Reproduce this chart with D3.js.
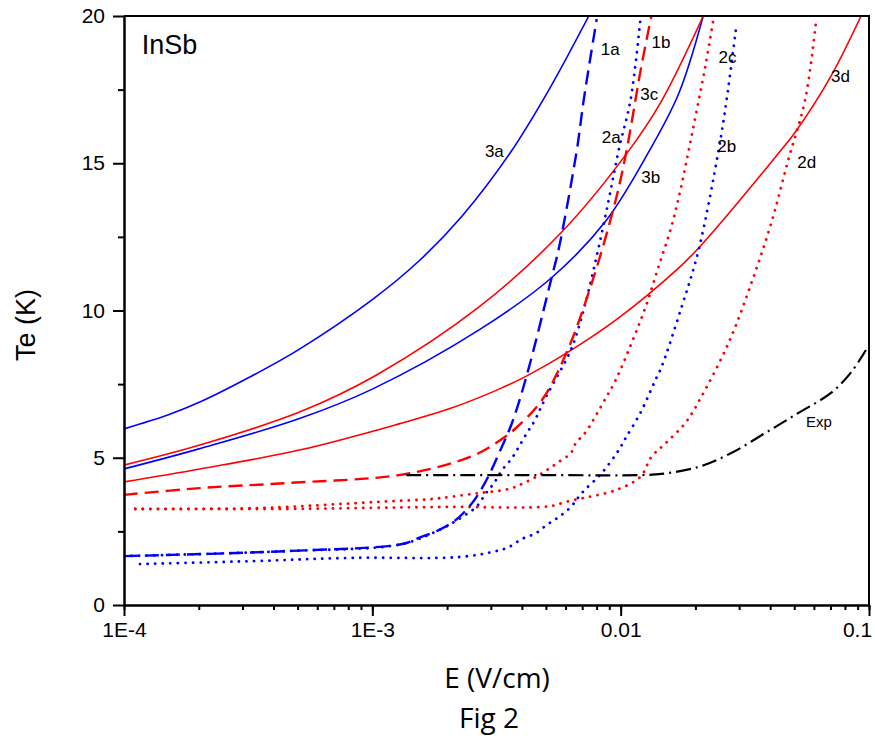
<!DOCTYPE html>
<html>
<head>
<meta charset="utf-8">
<script src="https://cdn.jsdelivr.net/npm/d3@7"></script>
<style>
  body { margin: 0; background: #fff; }
  svg text { font-family: "Liberation Sans", Arial, sans-serif; }
</style>
</head>
<body>
<svg id="chart" width="875" height="740"></svg>
<script>
// Electron temperature Te (K) versus electric field E (V/cm) in InSb.

// Field axis ticks
const xMajorTicks = [1e-4, 1e-3, 1e-2, 1e-1];
const xMajorLabels = ["1E-4", "1E-3", "0.01", "0.1"];
const yMajorTicks = [0, 5, 10, 15, 20];
const yMinorTicks = [2.5, 7.5, 12.5, 17.5];

// Curve 3a
const E_3a = [1e-4, 1.5e-4, 2.02e-4, 3.21e-4, 5.09e-4, 1.0e-3, 1.54e-3, 2.30e-3, 3.61e-3, 5.14e-3, 7.44e-3];
const T_3a = [5.98, 6.45, 6.89, 7.74, 8.69, 10.37, 11.68, 13.21, 15.38, 17.49, 20.0];

// Curve 3b
const E_3b = [1e-4, 2.02e-4, 5.09e-4, 1.0e-3, 2.69e-3, 5.28e-3, 8.71e-3, 1.29e-2, 1.71e-2, 2.15e-2];
const T_3b = [4.62, 5.31, 6.33, 7.33, 9.34, 11.12, 13.04, 15.35, 17.35, 20.0];

// Curve 3c
const E_3c = [1e-4, 2.02e-4, 5.09e-4, 1.04e-3, 2.69e-3, 5.74e-3, 1.077e-2, 1.46e-2, 2.15e-2];
const T_3c = [4.75, 5.43, 6.55, 7.81, 10.12, 12.63, 15.42, 17.11, 20.0];

// Curve 3d
const E_3d = [1e-4, 2.02e-4, 5.09e-4, 1.28e-3, 2.04e-3, 3.24e-3, 4.19e-3, 6.07e-3, 9.82e-3, 1.71e-2, 2.06e-2, 4.43e-2, 5.05e-2, 7.03e-2, 9.29e-2];
const T_3d = [4.18, 4.62, 5.26, 6.15, 6.66, 7.33, 7.78, 8.56, 9.75, 11.44, 12.12, 15.45, 16.06, 17.96, 20.0];

// Curve 1a
const E_1a = [1e-4, 4.52e-4, 1.32e-3, 1.54e-3, 1.86e-3, 2.17e-3, 2.45e-3, 2.69e-3, 2.95e-3, 3.24e-3, 3.65e-3, 4.19e-3, 5.28e-3, 5.64e-3, 6.66e-3, 7.10e-3, 8.01e-3];
const T_1a = [1.66, 1.83, 2.07, 2.28, 2.55, 2.89, 3.33, 3.80, 4.41, 5.16, 6.18, 7.81, 11.14, 12.12, 15.45, 17.15, 19.9];

// Curve 1b
const E_1b = [1e-4, 2.02e-4, 4.52e-4, 1.28e-3, 2.17e-3, 2.69e-3, 3.15e-3, 3.79e-3, 4.82e-3, 6.07e-3, 7.65e-3, 9.55e-3, 1.057e-2, 1.21e-2, 1.33e-2];
const T_1b = [3.74, 3.97, 4.14, 4.41, 4.86, 5.16, 5.50, 6.01, 6.96, 8.59, 10.93, 13.75, 15.45, 18.27, 20.0];

// Curve 2a
const E_2a = [1e-4, 4.52e-4, 1.32e-3, 1.86e-3, 2.04e-3, 2.30e-3, 2.62e-3, 2.87e-3, 3.09e-3, 3.33e-3, 3.65e-3, 3.89e-3, 4.19e-3, 4.47e-3, 5.00e-3, 6.30e-3, 6.97e-3, 7.94e-3, 8.95e-3, 9.82e-3, 1.096e-2, 1.20e-2];
const T_2a = [1.66, 1.83, 2.07, 2.55, 2.72, 2.99, 3.33, 3.80, 4.14, 4.58, 4.99, 5.37, 5.84, 6.21, 7.06, 8.66, 9.78, 11.71, 13.75, 15.45, 17.15, 19.86];

// Curve 2b
const E_2b = [1.16e-4, 3.30e-4, 8.31e-4, 2.24e-3, 3.15e-3, 3.55e-3, 4.00e-3, 4.56e-3, 5.04e-3, 5.64e-3, 6.30e-3, 6.97e-3, 8.39e-3, 9.82e-3, 1.047e-2, 1.20e-2, 1.38e-2, 1.46e-2, 1.76e-2, 2.06e-2, 2.48e-2, 2.67e-2, 2.92e-2];
const T_2b = [1.39, 1.49, 1.60, 1.63, 1.83, 1.97, 2.24, 2.44, 2.72, 2.99, 3.33, 3.80, 4.48, 5.26, 5.67, 6.52, 7.64, 8.08, 10.12, 12.05, 15.45, 17.15, 19.63];

// Curve 2c
const E_2c = [1.11e-4, 3.0e-4, 4.52e-4, 1.04e-3, 1.74e-3, 2.04e-3, 2.69e-3, 3.55e-3, 4.00e-3, 4.56e-3, 5.04e-3, 5.64e-3, 6.30e-3, 6.60e-3, 7.23e-3, 8.39e-3, 9.55e-3, 1.107e-2, 1.26e-2, 1.42e-2, 1.60e-2, 1.74e-2, 1.88e-2, 2.19e-2, 2.36e-2];
const T_2c = [3.26, 3.28, 3.33, 3.50, 3.60, 3.67, 3.80, 3.94, 4.11, 4.35, 4.58, 4.86, 5.16, 5.50, 5.87, 6.79, 7.64, 8.90, 10.12, 11.48, 12.84, 14.09, 15.45, 18.27, 19.86];

// Curve 2d
const E_2d = [1.11e-4, 4.52e-4, 1.0e-3, 2.04e-3, 5.14e-3, 6.01e-3, 6.78e-3, 7.44e-3, 9.55e-3, 1.20e-2, 1.33e-2, 1.52e-2, 1.82e-2, 2.11e-2, 2.72e-2, 3.36e-2, 4.04e-2, 4.73e-2, 5.53e-2, 6.13e-2];
const T_2d = [3.26, 3.26, 3.30, 3.33, 3.35, 3.50, 3.60, 3.67, 3.90, 4.35, 5.03, 5.50, 6.18, 7.06, 8.90, 10.93, 12.97, 15.11, 17.15, 19.86];

// Experimental curve
const E_exp = [1.37e-3, 5.0e-3, 1.20e-2, 1.46e-2, 2.06e-2, 2.79e-2, 3.82e-2, 5.19e-2, 7.03e-2, 8.47e-2, 9.72e-2];
const T_exp = [4.41, 4.41, 4.41, 4.45, 4.69, 5.16, 5.84, 6.52, 7.20, 7.90, 8.66];

// Curve annotations, anchored at (E, Te)
const labelText = ["1a", "1b", "3c", "2a", "3a", "3b", "2c", "2b", "3d", "2d", "Exp"];
const labelE    = [8.31e-3, 1.33e-2, 1.20e-2, 8.39e-3, 2.84e-3, 1.21e-2, 2.48e-2, 2.45e-2, 7.03e-2, 5.14e-2, 5.58e-2];
const labelT    = [18.68, 18.91, 17.15, 15.69, 15.21, 14.33, 18.40, 15.38, 17.76, 14.84, 6.04];

// ---- drawing ----
const W = 875, H = 740;
const margin = { top: 16, right: 6, bottom: 135, left: 124 };

const svg = d3.select("#chart");

const x = d3.scaleLog().domain([1e-4, 0.1]).range([margin.left, W - margin.right]);
const y = d3.scaleLinear().domain([0, 20]).range([H - margin.bottom, margin.top]);

const BLUE = "#0000ff", RED = "#ff0000", BLACK = "#000000";
const SOLID = null, DASH = "14,7", DOT = "0.1,7.5", DASHDOT = "15,5,2,5";

const series = [
  { E: E_3a, T: T_3a, color: BLUE, dash: SOLID, w: 1.6 },
  { E: E_3b, T: T_3b, color: BLUE, dash: SOLID, w: 1.6 },
  { E: E_3c, T: T_3c, color: RED,  dash: SOLID, w: 1.6 },
  { E: E_3d, T: T_3d, color: RED,  dash: SOLID, w: 1.6 },
  { E: E_2a, T: T_2a, color: BLUE, dash: DOT,   w: 2.8 },
  { E: E_2b, T: T_2b, color: BLUE, dash: DOT,   w: 2.8 },
  { E: E_2c, T: T_2c, color: RED,  dash: DOT,   w: 2.8 },
  { E: E_2d, T: T_2d, color: RED,  dash: DOT,   w: 2.8 },
  { E: E_1a, T: T_1a, color: BLUE, dash: DASH,  w: 2.4 },
  { E: E_1b, T: T_1b, color: RED,  dash: DASH,  w: 2.4 },
  { E: E_exp, T: T_exp, color: BLACK, dash: DASHDOT, w: 2.2 }
];

svg.append("defs").append("clipPath").attr("id", "plotClip")
  .append("rect")
  .attr("x", margin.left).attr("y", margin.top)
  .attr("width", W - margin.left - margin.right)
  .attr("height", H - margin.top - margin.bottom);

const line = d3.line()
  .x(d => x(d[0]))
  .y(d => y(d[1]))
  .curve(d3.curveCatmullRom.alpha(0.5));

const plot = svg.append("g").attr("clip-path", "url(#plotClip)");
series.forEach(s => {
  const pts = s.E.map((e, i) => [e, s.T[i]]);
  plot.append("path")
    .datum(pts)
    .attr("d", line)
    .attr("fill", "none")
    .attr("stroke", s.color)
    .attr("stroke-width", s.w)
    .attr("stroke-linecap", s.dash === DOT ? "round" : "butt")
    .attr("stroke-dasharray", s.dash);
});

// Curve labels
svg.append("g").selectAll("text")
  .data(labelText)
  .join("text")
  .attr("x", (d, i) => x(labelE[i]))
  .attr("y", (d, i) => y(labelT[i]))
  .attr("font-size", d => d === "Exp" ? 15 : 17)
  .attr("fill", "#000")
  .text(d => d);

// Material label
svg.append("text")
  .attr("x", x(1.18e-4)).attr("y", y(18.71))
  .attr("font-size", 27)
  .text("InSb");

// Axes
const xMinor = d3.axisBottom(x).tickValues(x.ticks()).tickSize(5).tickFormat("").tickSizeOuter(0);
const xMajor = d3.axisBottom(x).tickValues(xMajorTicks).tickSize(11).tickPadding(6)
  .tickFormat((d, i) => xMajorLabels[i]).tickSizeOuter(0);
const yMinor = d3.axisLeft(y).tickValues(yMinorTicks).tickSize(6).tickFormat("").tickSizeOuter(0);
const yMajor = d3.axisLeft(y).tickValues(yMajorTicks).tickSize(11).tickPadding(8).tickSizeOuter(0);

function styleAxis(g) {
  g.selectAll("path, line").attr("stroke", "#000").attr("stroke-width", 2);
  g.selectAll("text").attr("font-size", 21).attr("fill", "#000")
    .attr("font-family", "'Liberation Sans', Arial, sans-serif");
}

const yb = H - margin.bottom;
svg.append("g").attr("transform", `translate(0,${yb})`).call(xMinor).call(styleAxis);
const xAxisG = svg.append("g").attr("transform", `translate(0,${yb})`).call(xMajor).call(styleAxis);
// keep the last field label inside the page edge
xAxisG.selectAll(".tick text").filter(d => d === 0.1).attr("dx", -12);
svg.append("g").attr("transform", `translate(${margin.left},0)`).call(yMinor).call(styleAxis);
svg.append("g").attr("transform", `translate(${margin.left},0)`).call(yMajor).call(styleAxis);

// Frame top and right
svg.append("path")
  .attr("d", `M${margin.left},${margin.top}H${W - margin.right}V${yb}`)
  .attr("fill", "none").attr("stroke", "#000").attr("stroke-width", 2);

// Axis titles
svg.append("text")
  .attr("x", 497).attr("y", 688)
  .attr("text-anchor", "middle")
  .attr("font-size", 28)
  .style("font-family", "'Open Sans', 'Noto Sans', sans-serif")
  .text("E (V/cm)");

svg.append("text")
  .attr("transform", "translate(35,325) rotate(-90)")
  .attr("text-anchor", "middle")
  .attr("font-size", 27)
  .text("Te (K)");

svg.append("text")
  .attr("x", 489).attr("y", 728)
  .attr("text-anchor", "middle")
  .attr("font-size", 28)
  .style("font-family", "'Open Sans', 'Noto Sans', sans-serif")
  .text("Fig 2");
</script>
</body>
</html>
